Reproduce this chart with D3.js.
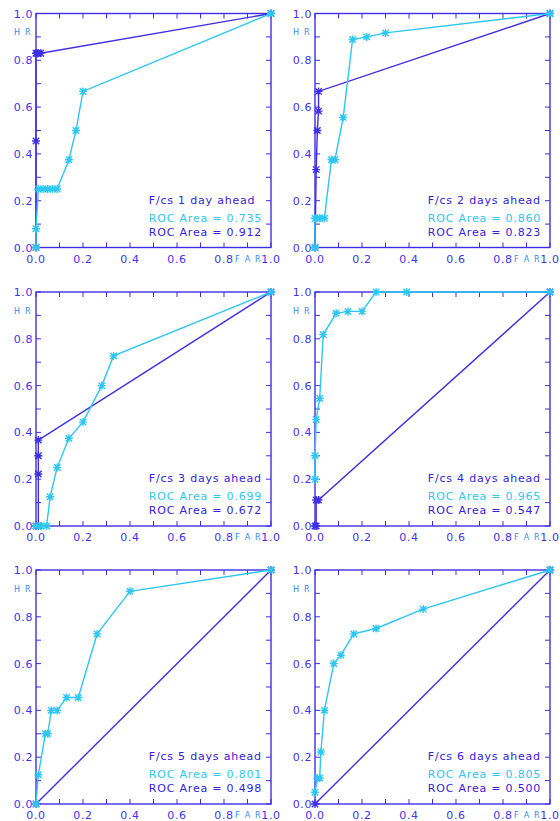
<!DOCTYPE html>
<html lang="en">
<head>
  <meta charset="UTF-8">
  <title>ROC curves</title>
  <style>
    body { margin: 0; background: #fff; }
    svg { display: block; }
    text { font-family: "DejaVu Sans", Arial, sans-serif; }
    .tick-label { font-size: 11px; fill: #4433ee; letter-spacing: 0.6px; }
    .axis-name { font-size: 8px; fill: #3a8cf0; letter-spacing: 1.2px; }
    .note { font-size: 11px; letter-spacing: 0.8px; }
  </style>
</head>
<body>
  <svg id="chart"></svg>

  <script src="https://d3js.org/d3.v7.min.js"></script>
  <script>
    // forecast lead times
    const leads = ["1 day", "2 days", "3 days", "4 days", "5 days", "6 days"];
    const rocLight = ["0.735", "0.860", "0.699", "0.965", "0.801", "0.805"];
    const rocDark = ["0.912", "0.823", "0.672", "0.547", "0.498", "0.500"];

    // dark (blue) curves: false alarm rate / hit rate
    const farDark = [
      [0, 0, 0, 0.005, 0.01, 0.02, 1],
      [0, 0.005, 0.01, 0.015, 0.015, 1],
      [0, 0.01, 0.01, 0.01, 0.01, 1],
      [0, 0.005, 0.005, 0.015, 1],
      [0, 1],
      [0, 1]
    ];
    const hrDark = [
      [0, 0.455, 0.83, 0.83, 0.83, 0.83, 1],
      [0, 0.333, 0.5, 0.583, 0.667, 1],
      [0, 0, 0.222, 0.3, 0.367, 1],
      [0, 0, 0.111, 0.111, 1],
      [0, 1],
      [0, 1]
    ];

    // light (cyan) curves
    const farLight = [
      [0, 0, 0.01, 0.03, 0.05, 0.07, 0.09, 0.14, 0.17, 0.2, 1],
      [0, 0, 0.01, 0.02, 0.04, 0.07, 0.085, 0.12, 0.16, 0.22, 0.3, 1],
      [0, 0.02, 0.045, 0.06, 0.09, 0.14, 0.2, 0.28, 0.33, 1],
      [0, 0, 0.005, 0.02, 0.035, 0.09, 0.14, 0.2, 0.26, 0.39, 1],
      [0, 0.01, 0.04, 0.05, 0.065, 0.09, 0.13, 0.18, 0.26, 0.4, 1],
      [0, 0.01, 0.02, 0.025, 0.04, 0.08, 0.11, 0.165, 0.26, 0.46, 1]
    ];
    const hrLight = [
      [0, 0.08, 0.25, 0.25, 0.25, 0.25, 0.25, 0.375, 0.5, 0.667, 1],
      [0, 0.125, 0.125, 0.125, 0.125, 0.375, 0.375, 0.556, 0.889, 0.9, 0.917, 1],
      [0, 0, 0, 0.125, 0.25, 0.375, 0.444, 0.6, 0.727, 1],
      [0.2, 0.3, 0.455, 0.545, 0.818, 0.909, 0.917, 0.917, 1, 1, 1],
      [0, 0.125, 0.3, 0.3, 0.4, 0.4, 0.455, 0.455, 0.727, 0.909, 1],
      [0.05, 0.111, 0.111, 0.222, 0.4, 0.6, 0.636, 0.727, 0.75, 0.833, 1]
    ];

    const tickValues = [0, 0.2, 0.4, 0.6, 0.8, 1.0];

    const darkColor = "#3f2fe4";
    const lightColor = "#2ec6f2";
    const noteColor = "#3522d8";

    const W = 560, H = 821;
    const colX = [36, 315];
    const rowY = [13.5, 292, 570];
    const pw = 235, ph = 234;

    const svg = d3.select("#chart").attr("width", W).attr("height", H);

    function star(g, cx, cy, color) {
      const r = 4;
      const d = `M${cx - r},${cy}H${cx + r}M${cx},${cy - r}V${cy + r}` +
        `M${cx - r * 0.8},${cy - r * 0.8}L${cx + r * 0.8},${cy + r * 0.8}` +
        `M${cx - r * 0.8},${cy + r * 0.8}L${cx + r * 0.8},${cy - r * 0.8}`;
      g.append("path").attr("d", d).attr("stroke", color).attr("stroke-width", 1.4).attr("fill", "none");
    }

    function drawPanel(i) {
      const x0 = colX[i % 2], y0 = rowY[Math.floor(i / 2)];
      const x = d3.scaleLinear().domain([0, 1]).range([x0, x0 + pw]);
      const y = d3.scaleLinear().domain([0, 1]).range([y0 + ph, y0]);
      const g = svg.append("g");

      // minor ticks on all four sides, pointing inward
      const minor = d3.range(0, 1.0001, 0.1);
      const tl = 5;
      minor.forEach(v => {
        g.append("line").attr("x1", x(v)).attr("x2", x(v)).attr("y1", y(0)).attr("y2", y(0) - tl)
          .attr("stroke", darkColor).attr("stroke-width", 1);
        g.append("line").attr("x1", x(v)).attr("x2", x(v)).attr("y1", y(1)).attr("y2", y(1) + tl)
          .attr("stroke", darkColor).attr("stroke-width", 1);
        g.append("line").attr("y1", y(v)).attr("y2", y(v)).attr("x1", x(0)).attr("x2", x(0) + tl)
          .attr("stroke", darkColor).attr("stroke-width", 1);
        g.append("line").attr("y1", y(v)).attr("y2", y(v)).attr("x1", x(1)).attr("x2", x(1) - tl)
          .attr("stroke", darkColor).attr("stroke-width", 1);
      });

      g.append("rect")
        .attr("x", x(0)).attr("y", y(1)).attr("width", pw).attr("height", ph)
        .attr("fill", "none").attr("stroke", darkColor).attr("stroke-width", 1.4);

      // tick labels
      tickValues.forEach(v => {
        g.append("text").attr("class", "tick-label")
          .attr("x", x(v)).attr("y", y(0) + 15)
          .attr("text-anchor", "middle").text(v.toFixed(1));
        g.append("text").attr("class", "tick-label")
          .attr("x", x(0) - 3).attr("y", y(v) + 4)
          .attr("text-anchor", "end").text(v.toFixed(1));
      });
      g.append("text").attr("class", "axis-name")
        .attr("x", x(0) - 22).attr("y", y(0.92) + 3).text("H R");
      g.append("text").attr("class", "axis-name")
        .attr("x", x(0.86) - 3).attr("y", y(0) + 14).text("F A R");

      const line = d3.line().x(d => x(d[0])).y(d => y(d[1]));

      const darkPts = d3.zip(farDark[i], hrDark[i]);
      const lightPts = d3.zip(farLight[i], hrLight[i]);

      g.append("path").attr("d", line(darkPts))
        .attr("fill", "none").attr("stroke", darkColor).attr("stroke-width", 1.4);
      darkPts.forEach(p => star(g, x(p[0]), y(p[1]), darkColor));

      g.append("path").attr("d", line(lightPts))
        .attr("fill", "none").attr("stroke", lightColor).attr("stroke-width", 1.4);
      lightPts.forEach(p => star(g, x(p[0]), y(p[1]), lightColor));

      // annotation
      const tx = x(0.48);
      g.append("text").attr("class", "note").attr("x", tx).attr("y", y(0) - 44)
        .attr("fill", noteColor).text(`F/cs ${leads[i]} ahead`);
      g.append("text").attr("class", "note").attr("x", tx).attr("y", y(0) - 26)
        .attr("fill", lightColor).text(`ROC Area = ${rocLight[i]}`);
      g.append("text").attr("class", "note").attr("x", tx).attr("y", y(0) - 12)
        .attr("fill", noteColor).text(`ROC Area = ${rocDark[i]}`);
    }

    d3.range(6).forEach(drawPanel);
  </script>
</body>
</html>
